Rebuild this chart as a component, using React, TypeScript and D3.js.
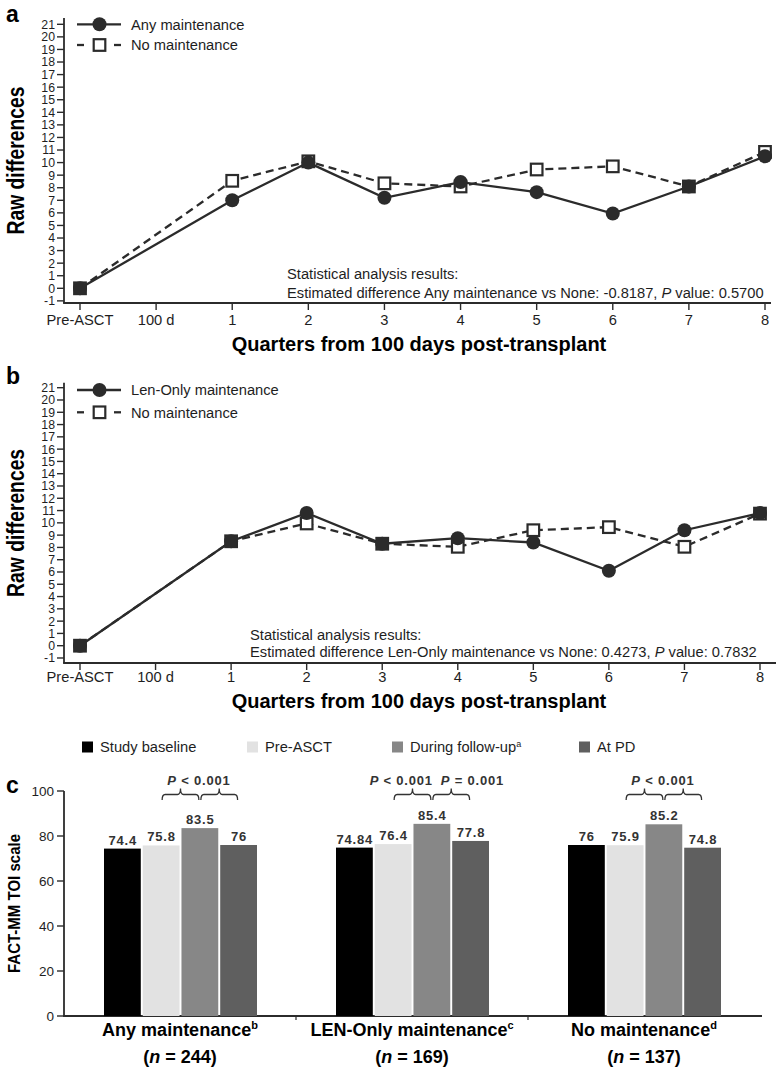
import React from "react";
import * as d3 from "d3";

// ---------------- Panels a & b : data ----------------
const X_CATEGORIES = ["Pre-ASCT", "100 d", "1", "2", "3", "4", "5", "6", "7", "8"];
const POINT_CATEGORIES = ["Pre-ASCT", "1", "2", "3", "4", "5", "6", "7", "8"];
const Y_TICKS_RAW = d3.range(-1, 22);

const ANY_MAINT_A = [0, 7.0, 10.0, 7.2, 8.45, 7.65, 5.95, 8.1, 10.5];
const NO_MAINT_A = [0, 8.55, 10.1, 8.35, 8.1, 9.45, 9.7, 8.1, 10.85];
const LEN_ONLY_B = [0, 8.5, 10.8, 8.3, 8.75, 8.4, 6.1, 9.4, 10.8];
const NO_MAINT_B = [0, 8.5, 9.95, 8.3, 8.05, 9.4, 9.65, 8.05, 10.75];

const LEGEND_A = ["Any maintenance", "No maintenance"];
const LEGEND_B = ["Len-Only maintenance", "No maintenance"];
const STATS_TITLE = "Statistical analysis results:";
const STATS_A = ["Estimated difference Any maintenance vs None: -0.8187, ", "P", " value: 0.5700"];
const STATS_B = ["Estimated difference Len-Only maintenance vs None: 0.4273, ", "P", " value: 0.7832"];
const X_TITLE = "Quarters from 100 days post-transplant";
const Y_TITLE = "Raw differences";

// ---------------- Panel c : data ----------------
const GROUPS = ["Any maintenance", "LEN-Only maintenance", "No maintenance"];
const GROUP_SUPERSCRIPTS = ["b", "c", "d"];
const GROUP_N = ["244", "169", "137"];
const SERIES_NAMES = ["Study baseline", "Pre-ASCT", "During follow-up", "At PD"];
const SERIES_SUPERSCRIPTS = ["", "", "a", ""];
const SERIES_COLORS = ["#000000", "#e2e2e2", "#878787", "#5f5f5f"];
const TOI_ANY = [74.4, 75.8, 83.5, 76];
const TOI_LEN = [74.84, 76.4, 85.4, 77.8];
const TOI_NONE = [76, 75.9, 85.2, 74.8];
const TOI_TICKS = [0, 20, 40, 60, 80, 100];
const P_COMPARISONS = [["< 0.001"], ["< 0.001", "= 0.001"], ["< 0.001"]];
const C_Y_TITLE = "FACT-MM TOI scale";

const FONT = "'Liberation Sans', Arial, Helvetica, sans-serif";
const INK = "#2b2b2b";
const TXT = "#1e1e1e";

type LineCfg = {
  label: string;
  labelY: number;
  y0: number;
  y21: number;
  axisY: number;
  yTopVal: number;
  xRange: [number, number];
  axisRight: number;
  legendY: [number, number];
  legendNames: string[];
  s1: number[];
  s2: number[];
  statsX: number;
  statsY: [number, number];
  stats: string[];
  tickLabelY: number;
  titleY: number;
};

function LinePanel({ cfg }: { cfg: LineCfg }) {
  const x = d3.scalePoint<string>().domain(X_CATEGORIES).range(cfg.xRange);
  const y = d3.scaleLinear().domain([0, 21]).range([cfg.y0, cfg.y21]);
  const pts = (s: number[]) =>
    POINT_CATEGORIES.map((c, i) => [x(c) as number, y(s[i])] as [number, number]);
  const line = d3.line<[number, number]>();
  const p1 = pts(cfg.s1);
  const p2 = pts(cfg.s2);
  const axisX = 64;
  const yTop = y(cfg.yTopVal);
  const midY = (yTop + cfg.axisY) / 2;
  const mx = 99.5;
  return (
    <g>
      <text x={6} y={cfg.labelY} fontSize={23} fontWeight="bold" fill="#000">
        {cfg.label}
      </text>
      {/* y axis */}
      <line x1={axisX} x2={axisX} y1={yTop} y2={cfg.axisY} stroke={INK} strokeWidth={1.8} />
      {Y_TICKS_RAW.map((t) => (
        <g key={t}>
          <line x1={57} x2={axisX} y1={y(t)} y2={y(t)} stroke={INK} strokeWidth={1.4} />
          <text x={55} y={y(t)} dy="0.36em" textAnchor="end" fontSize={12.3} fill={TXT}>
            {t}
          </text>
        </g>
      ))}
      {/* x axis */}
      <line x1={axisX - 0.9} x2={cfg.axisRight} y1={cfg.axisY} y2={cfg.axisY} stroke={INK} strokeWidth={1.8} />
      {X_CATEGORIES.map((c) => (
        <g key={c}>
          <line x1={x(c)} x2={x(c)} y1={cfg.axisY} y2={cfg.axisY + 7} stroke={INK} strokeWidth={1.4} />
          <text x={x(c)} y={cfg.tickLabelY} textAnchor="middle" fontSize={14.7} fill={TXT}>
            {c}
          </text>
        </g>
      ))}
      <text x={419} y={cfg.titleY} textAnchor="middle" fontSize={20} fontWeight="bold" fill="#000">
        {X_TITLE}
      </text>
      <text
        transform={`translate(24,${midY}) rotate(-90)`}
        textAnchor="middle"
        fontSize={23}
        fontWeight="bold"
        textLength={148}
        lengthAdjust="spacingAndGlyphs"
        fill="#000"
      >
        {Y_TITLE}
      </text>
      {/* series */}
      <path d={line(p2) || ""} fill="none" stroke={INK} strokeWidth={2.3} strokeDasharray="8,5" />
      <path d={line(p1) || ""} fill="none" stroke={INK} strokeWidth={2.3} />
      {p2.map(([px, py], i) => (
        <rect key={i} x={px - 5.8} y={py - 5.8} width={11.6} height={11.6} fill="#fff" stroke={INK} strokeWidth={2.2} />
      ))}
      {p1.map(([px, py], i) => (
        <circle key={i} cx={px} cy={py} r={7} fill={INK} />
      ))}
      {/* legend */}
      <line x1={77} x2={121} y1={cfg.legendY[0]} y2={cfg.legendY[0]} stroke={INK} strokeWidth={2.3} />
      <circle cx={mx} cy={cfg.legendY[0]} r={7} fill={INK} />
      <text x={131} y={cfg.legendY[0]} dy="0.36em" fontSize={14.7} fill={TXT}>
        {cfg.legendNames[0]}
      </text>
      <line x1={77} x2={84} y1={cfg.legendY[1]} y2={cfg.legendY[1]} stroke={INK} strokeWidth={2.3} />
      <line x1={114} x2={121} y1={cfg.legendY[1]} y2={cfg.legendY[1]} stroke={INK} strokeWidth={2.3} />
      <rect x={mx - 5.8} y={cfg.legendY[1] - 5.8} width={11.6} height={11.6} fill="#fff" stroke={INK} strokeWidth={2.2} />
      <text x={131} y={cfg.legendY[1]} dy="0.36em" fontSize={14.7} fill={TXT}>
        {cfg.legendNames[1]}
      </text>
      {/* stats */}
      <text x={cfg.statsX} y={cfg.statsY[0]} dy="0.36em" fontSize={14.7} fill={TXT}>
        {STATS_TITLE}
      </text>
      <text x={cfg.statsX} y={cfg.statsY[1]} dy="0.36em" fontSize={14.7} fill={TXT}>
        {cfg.stats[0]}
        <tspan fontStyle="italic">{cfg.stats[1]}</tspan>
        {cfg.stats[2]}
      </text>
    </g>
  );
}

function bracePath(x1: number, x2: number, yTop: number, yEnd: number, yTip: number) {
  const m = (x1 + x2) / 2;
  const r = 3;
  return [
    `M${x1},${yEnd}`,
    `Q${x1},${yTop} ${x1 + r},${yTop}`,
    `L${m - r},${yTop}`,
    `Q${m},${yTop} ${m},${yTip}`,
    `Q${m},${yTop} ${m + r},${yTop}`,
    `L${x2 - r},${yTop}`,
    `Q${x2},${yTop} ${x2},${yEnd}`,
  ].join(" ");
}

function BarPanel() {
  const x0 = d3.scaleBand<string>().domain(GROUPS).range([64, 760]);
  const x1 = d3.scaleBand<string>().domain(SERIES_NAMES).range([40, 193]).paddingInner(0.05);
  const y = d3.scaleLinear().domain([0, 100]).range([1016, 791]);
  const color = d3.scaleOrdinal<string, string>().domain(SERIES_NAMES).range(SERIES_COLORS);
  const values = [TOI_ANY, TOI_LEN, TOI_NONE];
  const bw = x1.bandwidth();
  const center = (g: string, s: string) => (x0(g) as number) + (x1(s) as number) + bw / 2;
  const legendX = [82, 247, 392, 579];
  return (
    <g>
      <text x={6} y={793} fontSize={23} fontWeight="bold" fill="#000">
        c
      </text>
      {/* legend */}
      {SERIES_NAMES.map((s, i) => (
        <g key={s}>
          <rect x={legendX[i]} y={741.5} width={11} height={11} fill={color(s)} />
          <text x={legendX[i] + 18} y={747} dy="0.36em" fontSize={14.7} fill={TXT}>
            {s}
            {SERIES_SUPERSCRIPTS[i] && (
              <tspan dy={-5} fontSize={9}>
                {SERIES_SUPERSCRIPTS[i]}
              </tspan>
            )}
          </text>
        </g>
      ))}
      {/* axes */}
      <line x1={64} x2={64} y1={y(100)} y2={y(0)} stroke={INK} strokeWidth={1.8} />
      {TOI_TICKS.map((t) => (
        <g key={t}>
          <line x1={57} x2={64} y1={y(t)} y2={y(t)} stroke={INK} strokeWidth={1.4} />
          <text x={54} y={y(t)} dy="0.36em" textAnchor="end" fontSize={13.5} fill={TXT}>
            {t}
          </text>
        </g>
      ))}
      <line x1={63} x2={762} y1={y(0)} y2={y(0)} stroke={INK} strokeWidth={1.8} />
      {GROUPS.slice(1).map((g) => (
        <line key={g} x1={x0(g)} x2={x0(g)} y1={y(0)} y2={y(0) + 4} stroke={INK} strokeWidth={1.2} />
      ))}
      <text
        transform={`translate(19.5,${(y(0) + y(100)) / 2}) rotate(-90)`}
        textAnchor="middle"
        fontSize={16.5}
        fontWeight="bold"
        textLength={139}
        lengthAdjust="spacingAndGlyphs"
        fill="#000"
      >
        {C_Y_TITLE}
      </text>
      {/* bars */}
      {GROUPS.map((g, gi) => (
        <g key={g}>
          {SERIES_NAMES.map((s, si) => {
            const v = values[gi][si];
            const bx = (x0(g) as number) + (x1(s) as number);
            return (
              <g key={s}>
                <rect x={bx} y={y(v)} width={bw} height={y(0) - y(v)} fill={color(s)} />
                <text
                  x={bx + bw / 2 + 0.4}
                  y={y(v) - 4}
                  textAnchor="middle"
                  fontSize={13}
                  fontWeight="bold"
                  letterSpacing={0.8}
                  fill="#333"
                >
                  {String(v)}
                </text>
              </g>
            );
          })}
          {/* braces */}
          {[1, 2].map((k) => (
            <path
              key={k}
              d={bracePath(
                center(g, SERIES_NAMES[k]) + 1,
                center(g, SERIES_NAMES[k + 1]) - 1,
                794.5,
                800,
                788.5
              )}
              fill="none"
              stroke="#333"
              strokeWidth={1.3}
            />
          ))}
          {P_COMPARISONS[gi].map((p, pi, arr) => {
            const c2 = center(g, SERIES_NAMES[2]);
            const single = arr.length === 1;
            const xPos = single ? c2 - 1 : pi === 0 ? c2 + 1 : c2 + 9;
            const anchor = single ? "middle" : pi === 0 ? "end" : "start";
            return (
              <text
                key={pi}
                x={xPos}
                y={785}
                textAnchor={anchor}
                fontSize={13}
                fontWeight="bold"
                letterSpacing={0.8}
                fill="#333"
              >
                <tspan fontStyle="italic">P</tspan>
                {" " + p}
              </text>
            );
          })}
          {/* category labels */}
          <text x={(x0(g) as number) + x0.bandwidth() / 2} y={1036} textAnchor="middle" fontSize={18} fontWeight="bold" fill="#000">
            {g}
            <tspan dy={-7} fontSize={11}>
              {GROUP_SUPERSCRIPTS[gi]}
            </tspan>
          </text>
          <text x={(x0(g) as number) + x0.bandwidth() / 2} y={1063} textAnchor="middle" fontSize={18} fontWeight="bold" fill="#000">
            {"("}
            <tspan fontStyle="italic">n</tspan>
            {" = " + GROUP_N[gi] + ")"}
          </text>
        </g>
      ))}
    </g>
  );
}

const PANEL_A: LineCfg = {
  label: "a",
  labelY: 22,
  y0: 288.3,
  y21: 24.3,
  axisY: 303,
  yTopVal: 21.5,
  xRange: [80, 765],
  axisRight: 771,
  legendY: [24.3, 45],
  legendNames: LEGEND_A,
  s1: ANY_MAINT_A,
  s2: NO_MAINT_A,
  statsX: 287,
  statsY: [274, 292.5],
  stats: STATS_A,
  tickLabelY: 324.5,
  titleY: 350.5,
};

const PANEL_B: LineCfg = {
  label: "b",
  labelY: 384,
  y0: 645.7,
  y21: 387.7,
  axisY: 663,
  yTopVal: 21.4,
  xRange: [80, 760],
  axisRight: 776,
  legendY: [390, 412.3],
  legendNames: LEGEND_B,
  s1: LEN_ONLY_B,
  s2: NO_MAINT_B,
  statsX: 250,
  statsY: [635, 652],
  stats: STATS_B,
  tickLabelY: 682,
  titleY: 708,
};

export default function App() {
  return (
    <svg
      width={779}
      height={1070}
      viewBox="0 0 779 1070"
      style={{ position: "absolute", left: 0, top: 0, display: "block", background: "#fff" }}
      fontFamily={FONT}
    >
      <rect x={0} y={0} width={779} height={1070} fill="#fff" />
      <LinePanel cfg={PANEL_A} />
      <LinePanel cfg={PANEL_B} />
      <BarPanel />
    </svg>
  );
}
